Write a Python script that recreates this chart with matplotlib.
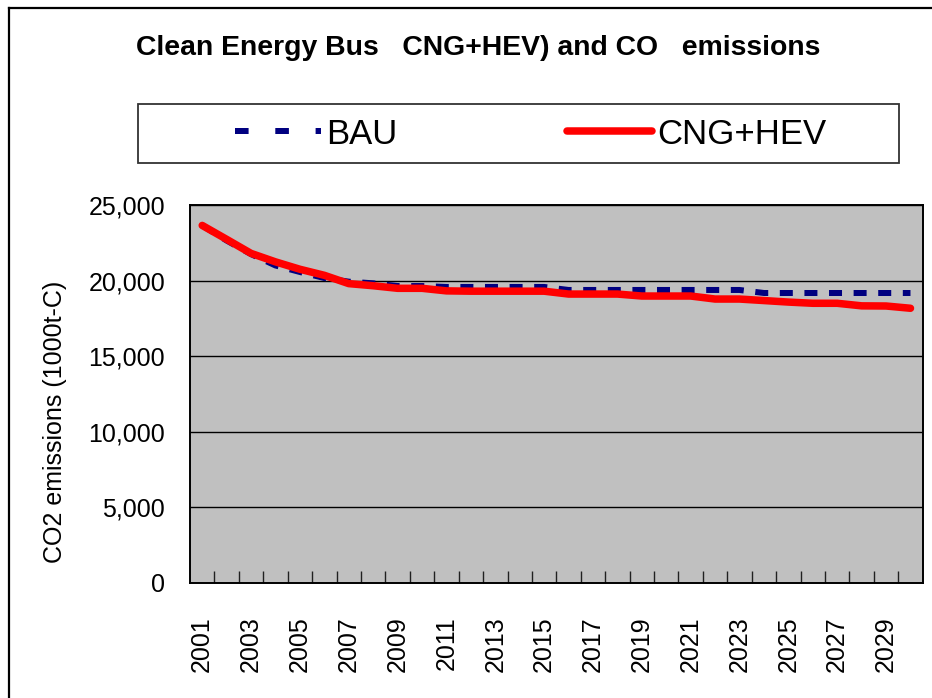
import matplotlib
matplotlib.use("Agg")
import matplotlib.pyplot as plt
from matplotlib.lines import Line2D
from matplotlib.patches import Rectangle
from matplotlib.ticker import FuncFormatter

plt.rcParams['font.family'] = ['Liberation Sans', 'DejaVu Sans']

years = list(range(2001, 2031))
bau = [23650, 22650, 21750, 21000, 20570, 20170, 19930, 19820, 19640, 19640,
       19580, 19580, 19580, 19580, 19580, 19380, 19380, 19380, 19380, 19380,
       19380, 19380, 19380, 19180, 19180, 19180, 19180, 19180, 19180, 19180]
cng = [23650, 22730, 21800, 21240, 20750, 20350, 19800, 19660, 19490, 19490,
       19320, 19300, 19300, 19300, 19300, 19110, 19110, 19110, 18980, 18980,
       18980, 18780, 18780, 18680, 18580, 18500, 18500, 18330, 18320, 18170]
yticks = [0, 5000, 10000, 15000, 20000, 25000]

W, H = 932, 698
fig = plt.figure(figsize=(W / 100, H / 100), dpi=100)
ax = fig.add_axes([190 / W, 1 - 583 / H, (922.7 - 190) / W, (583 - 205) / H])
ax.set_facecolor('#C0C0C0')

x = list(range(len(years)))
lw_b = 6 * 72 / 100
lw_r = 7.5 * 72 / 100
ax.plot(x, bau, color='#000080', lw=lw_b, dashes=(13 / 6, 11.6 / 6),
        solid_capstyle='butt', dash_capstyle='butt', zorder=3)
ax.plot(x, cng, color='#FF0000', lw=lw_r, solid_capstyle='round',
        solid_joinstyle='round', zorder=4)

ax.set_xlim(-0.5, len(years) - 0.5)
ax.set_ylim(0, 25000)
ax.set_yticks(yticks)
ax.yaxis.set_major_formatter(FuncFormatter(lambda v, p: f"{int(v):,}"))
ax.grid(axis='y', color='black', lw=1.0)
ax.set_axisbelow(True)
ax.tick_params(axis='y', length=0, pad=18, labelsize=18)

ax.set_xticks(x[::2])
ax.set_xticklabels([str(y) for y in years[::2]], rotation=90)
ax.set_xticks([i + 0.5 for i in x[:-1]], minor=True)
ax.tick_params(axis='x', which='major', length=0, pad=24, labelsize=18)
ax.tick_params(axis='x', which='minor', direction='in', length=9, width=1,
               color='#202020')
for s in ax.spines.values():
    s.set_color('black')
    s.set_linewidth(1.4)

ax.set_ylabel('CO2 emissions (1000t-C)', fontsize=18)
ax.yaxis.set_label_coords(-(190 - 67) / (922.7 - 190), (583 - 422) / (583 - 205))

fig.text(478 / W, 1 - 48 / H, 'Clean Energy Bus   CNG+HEV) and CO   emissions',
         ha='center', va='center', fontsize=20.4, fontweight='bold')

# legend box
fig.patches.append(Rectangle((138 / W, 1 - 163.3 / H), (899 - 138) / W,
                             (163.3 - 104.3) / H, transform=fig.transFigure,
                             facecolor='white', edgecolor='#333333', lw=1.3))
handles = [Line2D([], [], color='#000080', lw=lw_b, dashes=(13.6 / 6, 26.7 / 6),
                  dash_capstyle='butt'),
           Line2D([], [], color='#FF0000', lw=lw_r, solid_capstyle='round')]
leg = fig.legend(handles, ['BAU', 'CNG+HEV'], loc='center',
                 bbox_to_anchor=(531 / W, 1 - 134 / H), ncol=2, frameon=False,
                 handlelength=2.45, handletextpad=0.15, columnspacing=4.9,
                 prop={'size': 25})

# outer border
fig.add_artist(Line2D([9 / W, 9 / W], [0, 1 - 8 / H], color='black', lw=1.6,
                      transform=fig.transFigure))
fig.add_artist(Line2D([9 / W, 1], [1 - 8 / H, 1 - 8 / H], color='black', lw=1.6,
                      transform=fig.transFigure))

fig.savefig('out.png', dpi=100)
